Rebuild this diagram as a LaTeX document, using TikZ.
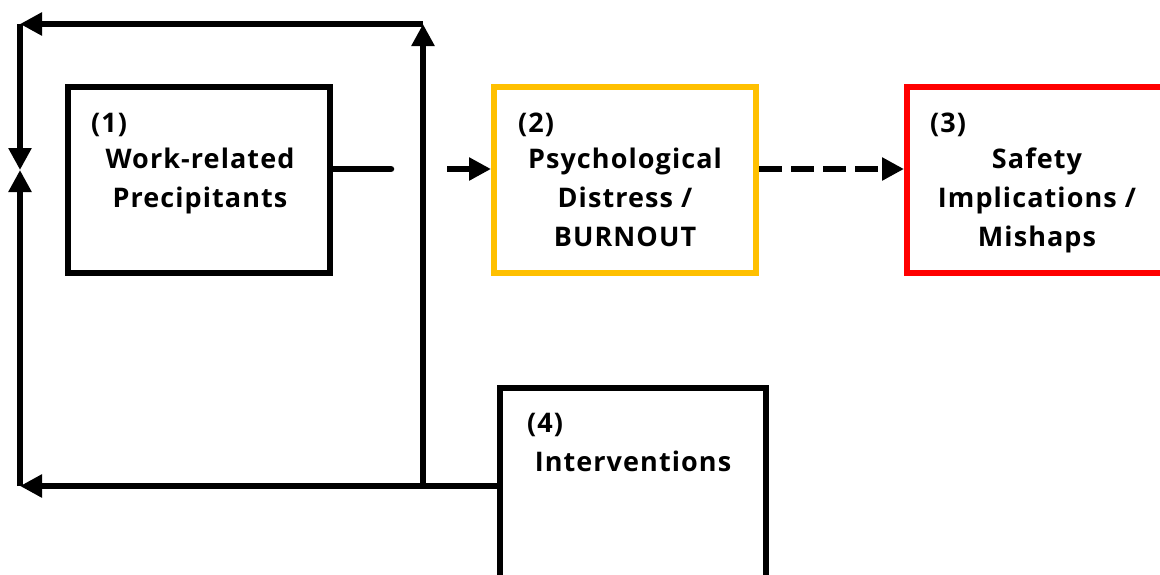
\documentclass[tikz,border=0pt]{standalone}
\usepackage{fontspec}
\setmainfont{Open Sans}[LetterSpace=4]
\usetikzlibrary{arrows.meta}
\definecolor{boxorange}{HTML}{FFC000}
\definecolor{boxred}{HTML}{FF0000}
\tikzset{
  box/.style={draw, line width=6pt, minimum width=262pt, minimum height=186pt, inner sep=0pt},
  conn/.style={line width=6.5pt},
  arr/.style={conn, -{Triangle[length=22pt,width=22pt]}},
  txt/.style={font=\fontsize{27}{39}\selectfont\bfseries, inner sep=0pt, anchor=base, align=center},
  num/.style={font=\fontsize{27}{39}\selectfont\bfseries, inner sep=0pt, anchor=base west},
}
\begin{document}
\begin{tikzpicture}[x=1pt,y=-1pt]
\useasboundingbox (0,0) rectangle (1160,574);
% boxes
\node[box] (b1) at (199,180) {};
\node[box, draw=boxorange] (b2) at (625,180) {};
\node[box, draw=boxred, minimum width=270pt] (b3) at (1042,180) {};
\node[box, minimum width=266pt, minimum height=200pt] (b4) at (633,488) {};
% texts
\node[num] (n1) at (91,132) {(1)};
\node[txt] (t1a) at (200,168) {Work-related};
\node[txt] (t1b) at (200,207) {Precipitants};
\node[num] (n2) at (518,132) {(2)};
\node[txt] (t2a) at (625,168) {Psychological};
\node[txt] (t2b) at (625,207) {Distress /};
\node[txt] (t2c) at (625,246) {BURNOUT};
\node[num] (n3) at (930,132) {(3)};
\node[txt] (t3a) at (1037,168) {Safety};
\node[txt] (t3b) at (1037,207) {Implications /};
\node[txt] (t3c) at (1037,246) {Mishaps};
\node[num] (n4) at (527,432) {(4)};
\node[txt] (t4a) at (633,471) {Interventions};
% junction coordinates
\coordinate (j1) at (391,169);
\coordinate (j2) at (447,169);
\coordinate (vb) at (423,486);
\coordinate (vt) at (423,24);
\coordinate (lt) at (20,24);
\coordinate (lm) at (20,170);
\coordinate (lb) at (20,486);
% connectors
\draw[conn, line cap=round] (b1.east |- j1) -- (j1);
\draw[arr] (j2) -- (b2.west |- j2);
\draw[arr, dash pattern=on 23pt off 9pt] (b2.east |- j2) -- (b3.west |- j2);
\draw[arr] (b4.west |- vb) -- (lb);
\draw[arr] (vb) -- (vt);
\draw[arr] (vt) -- (lt);
\draw[arr] (lt) -- (lm);
\draw[arr] (lb) -- (lm);
\end{tikzpicture}
\end{document}
